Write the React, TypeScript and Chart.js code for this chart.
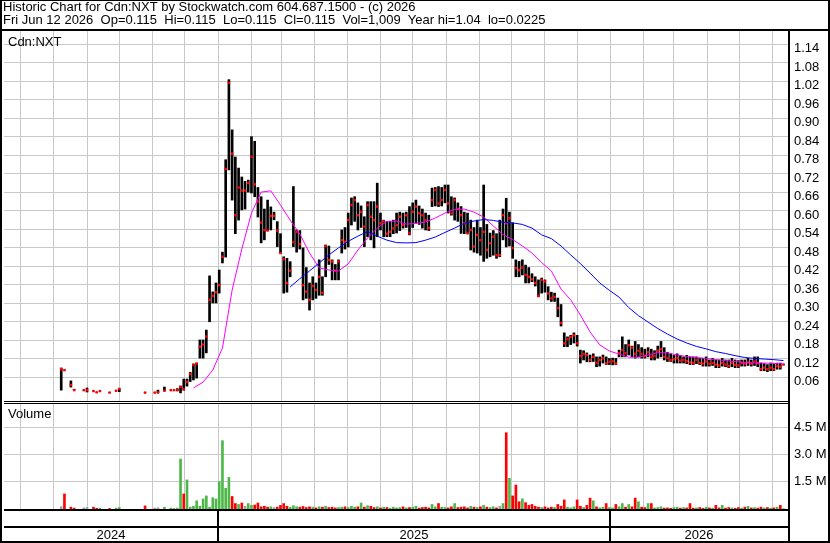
import { useEffect, useRef } from 'react';
import { Chart, registerables } from 'chart.js';

Chart.register(...registerables);

// ---- data (x = calendar days from 2025-01-01) ----
const FIRST_BAR_DAY = -146; // first sample (Aug 2024)
const BAR_STEP_DAYS = 3;
const X_MIN = -199.24;
const X_MAX = 530.16;

const highs = [
  0.104, 0.097, null, 0.062, 0.035, null, null, 0.032, 0.039, null,
  0.029, 0.025, 0.029, null, null, 0.024, null, 0.030, 0.037, null,
  null, null, null, null, null, null, 0.024, null, null, 0.024,
  0.032, null, 0.042, null, 0.032, 0.032, 0.037, 0.045, 0.068, 0.068,
  0.090, 0.117, 0.120, 0.195, 0.195, 0.227, 0.403, 0.351, 0.380, 0.422,
  0.480, 0.780, 1.040, 0.877, 0.789, 0.753, 0.724, 0.710, 0.714, 0.855,
  0.840, 0.690, 0.660, 0.620, 0.649, 0.627, 0.610, 0.579, 0.540, 0.465,
  0.460, 0.449, 0.693, 0.552, 0.550, 0.494, 0.430, 0.380, 0.400, 0.380,
  0.455, 0.400, 0.503, 0.500, 0.455, 0.440, 0.455, 0.552, 0.560, 0.607,
  0.656, 0.660, 0.640, 0.630, 0.595, 0.644, 0.644, 0.644, 0.704, 0.607,
  0.584, 0.580, 0.580, 0.584, 0.607, 0.610, 0.607, 0.610, 0.628, 0.640,
  0.649, 0.630, 0.620, 0.607, 0.600, 0.688, 0.690, 0.693, 0.690, 0.698,
  0.698, 0.660, 0.656, 0.640, 0.628, 0.610, 0.607, 0.584, 0.560, 0.584,
  0.560, 0.698, 0.570, 0.542, 0.550, 0.540, 0.584, 0.620, 0.655, 0.610,
  0.575, 0.455, 0.450, 0.455, 0.438, 0.430, 0.410, 0.400, 0.390, 0.396,
  0.390, 0.368, 0.350, 0.347, 0.331, 0.310, 0.218, 0.205, 0.210, 0.218,
  0.210, 0.162, 0.160, 0.153, 0.146, 0.150, 0.140, 0.140, 0.146, 0.140,
  0.135, 0.136, 0.135, 0.162, 0.205, 0.180, 0.195, 0.175, 0.190, 0.180,
  0.170, 0.165, 0.170, 0.165, 0.160, 0.175, 0.190, 0.170, 0.155, 0.150,
  0.145, 0.150, 0.145, 0.140, 0.145, 0.140, 0.140, 0.140, 0.135, 0.135,
  0.140, 0.130, 0.135, 0.130, 0.130, 0.135, 0.130, 0.130, 0.135, 0.130,
  0.128, 0.130, 0.130, 0.135, 0.130, 0.140, 0.140, 0.120, 0.118, 0.115,
  0.120, 0.118, 0.120, 0.120, 0.115,
];

const lows = [
  0.032, 0.097, null, 0.042, 0.032, null, null, 0.032, 0.026, null,
  0.029, 0.025, 0.029, null, null, 0.024, null, 0.030, 0.027, null,
  null, null, null, null, null, null, 0.024, null, null, 0.024,
  0.024, null, 0.030, null, 0.032, 0.032, 0.030, 0.023, 0.032, 0.045,
  0.060, 0.065, 0.071, 0.136, 0.136, 0.153, 0.254, 0.315, 0.315, 0.347,
  0.445, 0.464, 0.747, 0.649, 0.540, 0.584, 0.617, 0.620, 0.675, 0.672,
  0.660, 0.594, 0.510, 0.520, 0.550, 0.552, 0.585, 0.498, 0.477, 0.347,
  0.350, 0.400, 0.498, 0.480, 0.490, 0.325, 0.330, 0.292, 0.325, 0.330,
  0.340, 0.340, 0.400, 0.440, 0.390, 0.390, 0.390, 0.477, 0.490, 0.497,
  0.568, 0.580, 0.552, 0.560, 0.498, 0.530, 0.520, 0.494, 0.530, 0.552,
  0.530, 0.530, 0.530, 0.540, 0.542, 0.550, 0.558, 0.560, 0.536, 0.560,
  0.575, 0.570, 0.558, 0.552, 0.550, 0.628, 0.630, 0.628, 0.630, 0.640,
  0.607, 0.600, 0.584, 0.580, 0.541, 0.540, 0.541, 0.487, 0.480, 0.477,
  0.470, 0.450, 0.460, 0.465, 0.470, 0.460, 0.465, 0.520, 0.497, 0.500,
  0.460, 0.400, 0.400, 0.406, 0.380, 0.380, 0.384, 0.370, 0.335, 0.347,
  0.350, 0.325, 0.320, 0.320, 0.270, 0.240, 0.173, 0.173, 0.180, 0.185,
  0.175, 0.120, 0.130, 0.124, 0.124, 0.125, 0.108, 0.110, 0.120, 0.115,
  0.115, 0.114, 0.115, 0.140, 0.140, 0.140, 0.146, 0.140, 0.136, 0.140,
  0.136, 0.136, 0.140, 0.130, 0.130, 0.136, 0.140, 0.130, 0.125, 0.125,
  0.120, 0.120, 0.120, 0.120, 0.118, 0.115, 0.115, 0.118, 0.115, 0.110,
  0.110, 0.110, 0.112, 0.105, 0.105, 0.110, 0.108, 0.105, 0.108, 0.105,
  0.105, 0.110, 0.110, 0.112, 0.110, 0.112, 0.108, 0.095, 0.095, 0.092,
  0.095, 0.095, 0.100, 0.100, 0.115,
];

const closes = [
  0.100, 0.097, null, 0.049, 0.032, null, null, 0.032, 0.032, null,
  0.029, 0.025, 0.029, null, null, 0.024, null, 0.030, 0.036, null,
  null, null, null, null, null, null, 0.024, null, null, 0.024,
  0.024, null, 0.030, null, 0.032, 0.032, 0.032, 0.043, 0.035, 0.059,
  0.085, 0.114, 0.118, 0.173, 0.180, 0.206, 0.325, 0.338, 0.350, 0.373,
  0.465, 0.750, 1.030, 0.800, 0.600, 0.690, 0.680, 0.680, 0.705, 0.790,
  0.700, 0.644, 0.576, 0.552, 0.550, 0.598, 0.598, 0.550, 0.477, 0.457,
  0.380, 0.420, 0.512, 0.546, 0.506, 0.373, 0.352, 0.325, 0.370, 0.357,
  0.400, 0.348, 0.500, 0.455, 0.450, 0.420, 0.450, 0.519, 0.514, 0.584,
  0.633, 0.649, 0.600, 0.611, 0.563, 0.633, 0.595, 0.584, 0.628, 0.574,
  0.580, 0.540, 0.546, 0.557, 0.568, 0.595, 0.568, 0.600, 0.541, 0.611,
  0.628, 0.606, 0.600, 0.584, 0.558, 0.649, 0.682, 0.638, 0.649, 0.682,
  0.638, 0.606, 0.649, 0.620, 0.600, 0.574, 0.541, 0.552, 0.498, 0.536,
  0.519, 0.546, 0.487, 0.509, 0.530, 0.470, 0.470, 0.600, 0.574, 0.590,
  0.493, 0.428, 0.422, 0.430, 0.406, 0.400, 0.392, 0.380, 0.338, 0.390,
  0.385, 0.346, 0.330, 0.335, 0.298, 0.250, 0.184, 0.197, 0.205, 0.210,
  0.184, 0.143, 0.149, 0.146, 0.130, 0.140, 0.121, 0.130, 0.135, 0.119,
  0.124, 0.126, 0.119, 0.152, 0.162, 0.152, 0.178, 0.170, 0.150, 0.160,
  0.150, 0.143, 0.155, 0.140, 0.143, 0.160, 0.165, 0.140, 0.136, 0.130,
  0.132, 0.136, 0.128, 0.130, 0.126, 0.122, 0.120, 0.130, 0.120, 0.118,
  0.125, 0.118, 0.120, 0.115, 0.112, 0.120, 0.115, 0.110, 0.120, 0.114,
  0.112, 0.120, 0.118, 0.122, 0.118, 0.125, 0.120, 0.100, 0.105, 0.100,
  0.105, 0.100, 0.110, 0.108, 0.115,
];

// volume in millions of shares
const volumes = [
  0.13, 0.83, null, 0.10, 0.05, null, null, 0.06, 0.08, null,
  0.10, 0.04, 0.05, null, null, 0.03, null, 0.05, 0.08, null,
  null, null, null, null, null, null, 0.17, null, null, 0.05,
  0.07, null, 0.10, null, 0.05, 0.04, 0.06, 2.75, 0.83, 1.60,
  0.10, 0.15, 0.45, 0.16, 0.55, 0.72, 0.10, 0.62, 0.55, 1.50,
  3.76, 1.14, 1.74, 0.69, 0.30, 0.25, 0.33, 0.15, 0.30, 0.20,
  0.22, 0.33, 0.12, 0.15, 0.10, 0.12, 0.08, 0.10, 0.20, 0.30,
  0.15, 0.10, 0.18, 0.12, 0.10, 0.14, 0.08, 0.12, 0.10, 0.06,
  0.12, 0.10, 0.15, 0.08, 0.10, 0.06, 0.08, 0.10, 0.12, 0.08,
  0.15, 0.10, 0.12, 0.33, 0.10, 0.18, 0.15, 0.08, 0.12, 0.06,
  0.10, 0.08, 0.05, 0.10, 0.06, 0.08, 0.12, 0.06, 0.08, 0.10,
  0.15, 0.05, 0.08, 0.10, 0.06, 0.25, 0.12, 0.30, 0.10, 0.08,
  0.06, 0.12, 0.30, 0.08, 0.10, 0.12, 0.06, 0.15, 0.10, 0.08,
  0.12, 0.20, 0.10, 0.08, 0.12, 0.06, 0.15, 0.30, 4.20, 1.69,
  0.72, 1.32, 0.40, 0.56, 0.35, 0.20, 0.25, 0.15, 0.10, 0.08,
  0.12, 0.06, 0.10, 0.08, 0.25, 0.15, 0.50, 0.10, 0.06, 0.12,
  0.50, 0.15, 0.08, 0.20, 0.60, 0.45, 0.12, 0.06, 0.10, 0.30,
  0.08, 0.06, 0.25, 0.12, 0.30, 0.10, 0.25, 0.12, 0.60, 0.40,
  0.10, 0.08, 0.30, 0.30, 0.06, 0.08, 0.12, 0.05, 0.06, 0.04,
  0.08, 0.10, 0.05, 0.08, 0.06, 0.30, 0.05, 0.06, 0.08, 0.04,
  0.10, 0.06, 0.05, 0.20, 0.06, 0.20, 0.05, 0.08, 0.06, 0.04,
  0.08, 0.05, 0.10, 0.15, 0.06, 0.08, 0.05, 0.10, 0.06, 0.08,
  0.05, 0.06, 0.10, 0.20, 0.02,
];

// moving averages, sampled every 3 bars
const MA_STEP = 3;
const maShortStart = 41;
const maShort = [
  0.039, 0.058, 0.097, 0.169, 0.357, 0.490, 0.607, 0.675, 0.679, 0.633,
  0.584, 0.539, 0.477, 0.429, 0.422, 0.419, 0.442, 0.487, 0.526, 0.558,
  0.580, 0.581, 0.571, 0.573, 0.578, 0.591, 0.607, 0.619, 0.620, 0.610,
  0.594, 0.565, 0.537, 0.521, 0.500, 0.477, 0.446, 0.419, 0.360, 0.325,
  0.276, 0.221, 0.179, 0.159, 0.149, 0.139, 0.139, 0.146, 0.154, 0.153,
  0.146, 0.141, 0.138, 0.135, 0.131, 0.128, 0.125, 0.122, 0.120, 0.120,
  0.119, 0.117,
];
const maLongStart = 71;
const maLong = [
  0.367, 0.394, 0.419, 0.445, 0.471, 0.494, 0.515, 0.532, 0.547, 0.532,
  0.519, 0.511, 0.510, 0.511, 0.519, 0.529, 0.544, 0.558, 0.574, 0.581,
  0.586, 0.583, 0.577, 0.575, 0.570, 0.558, 0.536, 0.524, 0.500, 0.471,
  0.443, 0.412, 0.380, 0.356, 0.334, 0.300, 0.274, 0.253, 0.232, 0.214,
  0.198, 0.185, 0.174, 0.166, 0.157, 0.151, 0.144, 0.138, 0.135, 0.133,
  0.131, 0.128,
];

const priceTicks = [
  0.06, 0.12, 0.18, 0.24, 0.30, 0.36, 0.42, 0.48, 0.54, 0.60,
  0.66, 0.72, 0.78, 0.84, 0.90, 0.96, 1.02, 1.08, 1.14,
];
const volumeTicks = [1.5, 3.0, 4.5];
const years = [2024, 2025, 2026];

const headerLine1 = 'Historic Chart for Cdn:NXT by Stockwatch.com 604.687.1500 - (c) 2026';
const headerLine2 =
  'Fri Jun 12 2026  Op=0.115  Hi=0.115  Lo=0.115  Cl=0.115  Vol=1,009  Year hi=1.04  lo=0.0225';
const symbolLabel = 'Cdn:NXT';
const volumeLabel = 'Volume';

// ---- helpers ----
const DAY_MS = 86400000;
const dayOfDate = (y: number, m: number, d = 1) =>
  (Date.UTC(y, m, d) - Date.UTC(2025, 0, 1)) / DAY_MS;
const barDay = (i: number) => FIRST_BAR_DAY + i * BAR_STEP_DAYS;

const monthStarts: number[] = [];
for (let y = 2024; y <= 2026; y++) {
  for (let m = 0; m < 12; m++) {
    const d = dayOfDate(y, m, 1);
    if (d > X_MIN && d < X_MAX) monthStarts.push(d);
  }
}

const FONT = '13px "Liberation Sans", Arial, sans-serif';
const GRID = '#C8C8C8';

export default function App() {
  const ref = useRef<HTMLCanvasElement | null>(null);

  useEffect(() => {
    const canvas = ref.current;
    if (!canvas) return;

    const rangeBars: any[] = [];
    const closePts: any[] = [];
    const volBars: any[] = [];
    const volColors: string[] = [];
    let prev: number | null = null;
    highs.forEach((h, i) => {
      const x = barDay(i);
      const c = closes[i];
      if (h != null && lows[i] != null) rangeBars.push({ x, y: [lows[i], h] });
      if (c != null) closePts.push({ x, y: c });
      const v = volumes[i];
      if (v != null) {
        volBars.push({ x, y: v });
        let col = '#A0A0A0';
        if (c != null && prev != null) {
          if (c > prev) col = '#4DB848';
          else if (c < prev) col = '#FF0000';
        }
        volColors.push(col);
      }
      if (c != null) prev = c;
    });
    const maShortPts = maShort.map((v, k) => ({ x: barDay(maShortStart + k * MA_STEP), y: v }));
    const maLongPts = maLong.map((v, k) => ({ x: barDay(maLongStart + k * MA_STEP), y: v }));

    const framePlugin = {
      id: 'frame',
      beforeDraw(chart: any) {
        const { ctx } = chart;
        ctx.save();
        ctx.fillStyle = '#FFFFFF';
        ctx.fillRect(0, 0, chart.width, chart.height);
        ctx.restore();
      },
      beforeDatasetsDraw(chart: any) {
        const { ctx, chartArea } = chart;
        const ys = chart.scales.y;
        ctx.save();
        ctx.strokeStyle = GRID;
        ctx.lineWidth = 1;
        ctx.beginPath();
        priceTicks.forEach((t) => {
          const py = Math.round(ys.getPixelForValue(t)) - 5 + 0.5;
          ctx.moveTo(chartArea.left, py);
          ctx.lineTo(chartArea.right, py);
        });
        ctx.stroke();
        ctx.restore();
      },
      afterDraw(chart: any) {
        const { ctx, chartArea } = chart;
        const xs = chart.scales.x;
        const W = chart.width;
        const L = chartArea.left;
        const R = chartArea.right;
        ctx.save();
        ctx.fillStyle = '#000000';
        // frame lines
        ctx.fillRect(0, 0, W, 1);
        ctx.fillRect(0, 0, 2, 543);
        ctx.fillRect(W - 2, 0, 2, 543);
        ctx.fillRect(0, 541, W, 2);
        ctx.fillRect(0, 29, W, 2);
        ctx.fillRect(R, 29, 2, 514);
        // panel separator (double line)
        ctx.fillRect(L, 401, R - L, 1);
        ctx.fillStyle = '#FFFFFF';
        ctx.fillRect(L, 402, R - L, 1);
        ctx.fillStyle = '#000000';
        ctx.fillRect(L, 403, R - L, 1);
        // bottom band
        ctx.fillRect(L, 509, R - L, 2);
        ctx.fillRect(L, 526, R - L, 2);
        const yearEdges = [L];
        for (let k = 1; k < years.length; k++) {
          const px = Math.round(xs.getPixelForValue(dayOfDate(years[k], 0, 1)));
          yearEdges.push(px);
          ctx.fillRect(px - 1, 511, 2, 30);
        }
        yearEdges.push(R);
        // texts
        ctx.font = FONT;
        ctx.textBaseline = 'alphabetic';
        ctx.textAlign = 'left';
        ctx.fillText(headerLine1, 3, 11);
        ctx.fillText(headerLine2, 3, 24);
        ctx.fillText(symbolLabel, 8, 46);
        ctx.fillText(volumeLabel, 8, 418);
        ctx.textAlign = 'center';
        years.forEach((yr, k) => {
          ctx.fillText(String(yr), (yearEdges[k] + yearEdges[k + 1]) / 2, 539);
        });
        ctx.restore();
      },
    };

    const tickFont = { family: '"Liberation Sans", Arial, sans-serif', size: 13 };

    const chart = new Chart(canvas, {
      type: 'bar',
      data: {
        datasets: [
          {
            type: 'line',
            label: 'MA long',
            data: maLongPts,
            borderColor: '#0000FF',
            borderWidth: 1,
            pointRadius: 0,
            yAxisID: 'y',
            order: 0,
          },
          {
            type: 'line',
            label: 'MA short',
            data: maShortPts,
            borderColor: '#FF00FF',
            borderWidth: 1,
            pointRadius: 0,
            yAxisID: 'y',
            order: 1,
          },
          {
            type: 'line',
            label: 'Close',
            data: closePts,
            showLine: false,
            pointStyle: 'rect',
            pointRadius: 1.7,
            pointBackgroundColor: '#FF0000',
            pointBorderWidth: 0,
            yAxisID: 'y',
            order: 2,
          },
          {
            type: 'bar',
            label: 'Range',
            data: rangeBars,
            backgroundColor: '#000000',
            barThickness: 2,
            grouped: false,
            yAxisID: 'y',
            order: 3,
          },
          {
            type: 'bar',
            label: 'Volume',
            data: volBars,
            backgroundColor: volColors,
            barThickness: 2,
            grouped: false,
            yAxisID: 'yv',
            order: 4,
          },
        ] as any,
      },
      options: {
        animation: false,
        responsive: false,
        devicePixelRatio: 1,
        events: [],
        layout: { padding: { left: 2, top: 31, right: 0, bottom: 34 } },
        plugins: {
          legend: { display: false },
          tooltip: { enabled: false },
          title: { display: false },
        },
        scales: {
          x: {
            type: 'linear',
            position: 'bottom',
            min: X_MIN,
            max: X_MAX,
            offset: false,
            grid: { color: GRID, lineWidth: 1, drawTicks: false, offset: false },
            border: { display: false },
            ticks: { display: false },
            afterBuildTicks: (s: any) => {
              s.ticks = monthStarts.map((v) => ({ value: v }));
            },
            afterFit: (s: any) => {
              s.height = 0;
            },
          },
          y: {
            type: 'linear',
            axis: 'y',
            position: 'right',
            stack: 'panels',
            stackWeight: 369,
            min: 0,
            max: 1.198,
            grid: { display: false, drawTicks: false },
            border: { display: false },
            ticks: {
              autoSkip: false,
              padding: 6,
              color: '#000000',
              font: tickFont,
              callback: (v: any) => Number(v).toFixed(2),
            },
            afterBuildTicks: (s: any) => {
              s.ticks = priceTicks.map((v) => ({ value: v }));
            },
            afterFit: (s: any) => {
              s.width = 42;
            },
          },
          yv: {
            type: 'linear',
            axis: 'y',
            position: 'right',
            stack: 'panels',
            stackWeight: 109,
            min: 0,
            max: 6,
            grid: { color: GRID, lineWidth: 1, drawTicks: false },
            border: { display: false },
            ticks: {
              autoSkip: false,
              padding: 6,
              color: '#000000',
              font: tickFont,
              callback: (v: any) => `${Number(v).toFixed(1)} M`,
            },
            afterBuildTicks: (s: any) => {
              s.ticks = volumeTicks.map((v) => ({ value: v }));
            },
            afterFit: (s: any) => {
              s.width = 42;
            },
          },
        } as any,
      },
      plugins: [framePlugin],
    } as any);

    return () => chart.destroy();
  }, []);

  return (
    <div style={{ position: 'absolute', left: 0, top: 0, width: 830, height: 543 }}>
      <canvas ref={ref} width={830} height={543} style={{ width: 830, height: 543, display: 'block' }} />
    </div>
  );
}
